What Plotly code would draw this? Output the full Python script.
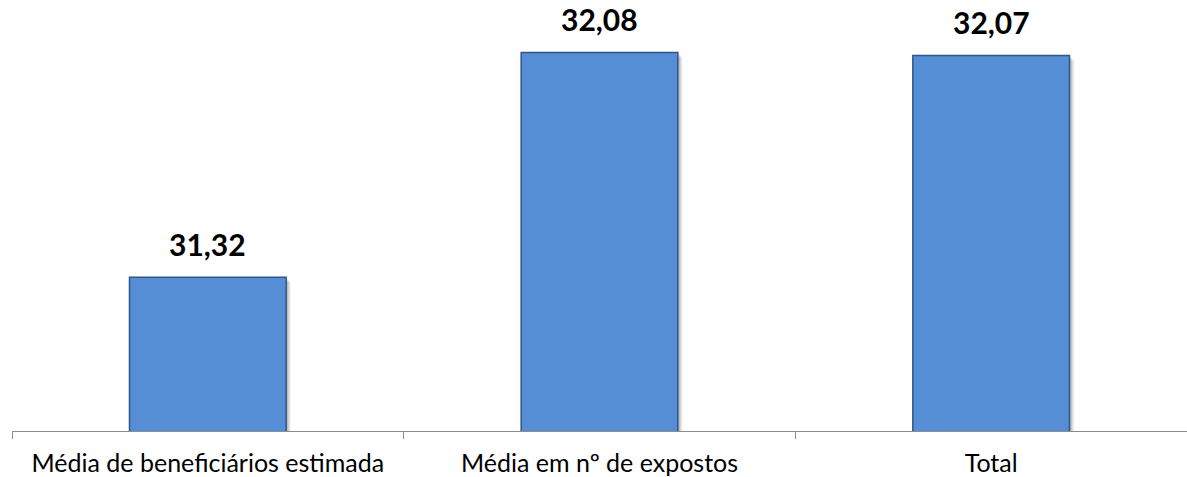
import plotly.graph_objects as go

# Mean values per method
categories = ["Média de beneficiários estimada", "Média em nº de expostos", "Total"]
values = [31.32, 32.08, 32.07]

BAR_FILL = "#558ED5"
BAR_EDGE = "#2F5689"
FONT = "Lato"

fig = go.Figure()

# soft drop shadow: a few translucent grey bars nudged right/down under each bar
px_per_cat = 392.0
px_per_unit = 296.0
for shift_px, alpha in [(2, 0.10), (3, 0.08), (4, 0.06), (5, 0.04)]:
    fig.add_trace(go.Bar(
        x=categories,
        y=[v - shift_px / px_per_unit for v in values],
        width=0.4,
        offset=-0.2 + shift_px / px_per_cat,
        marker=dict(color=f"rgba(0,0,0,{alpha})", line=dict(width=0)),
        hoverinfo="skip",
        showlegend=False,
    ))

fig.add_trace(go.Bar(
    x=categories,
    y=values,
    width=0.4,
    offset=-0.2,
    marker=dict(color=BAR_FILL, line=dict(color=BAR_EDGE, width=1.5)),
    showlegend=False,
))

# value labels above each bar
for cat, val in zip(categories, values):
    fig.add_annotation(
        x=cat,
        y=val,
        text=f"<b>{val:.2f}</b>".replace(".", ","),
        showarrow=False,
        yanchor="bottom",
        yshift=13,
        font=dict(family=FONT, size=30, color="#000000"),
    )

fig.update_layout(
    width=1187,
    height=477,
    margin=dict(l=12, r=0, t=17, b=46),
    barmode="overlay",
    separators=",.",
    paper_bgcolor="white",
    plot_bgcolor="white",
    font=dict(family=FONT, color="#000000"),
    showlegend=False,
    xaxis=dict(
        type="category",
        range=[-0.5, 2.5],
        showline=True,
        linecolor="#8C8C8C",
        linewidth=1,
        ticks="outside",
        tickson="boundaries",
        ticklen=7,
        tickcolor="#8C8C8C",
        tickfont=dict(family=FONT, size=25, color="#000000"),
        ticklabelstandoff=10,
        showgrid=False,
    ),
    yaxis=dict(
        range=[30.8, 32.2],
        visible=False,
        showgrid=False,
        zeroline=False,
    ),
)

fig.write_html("out.html")
